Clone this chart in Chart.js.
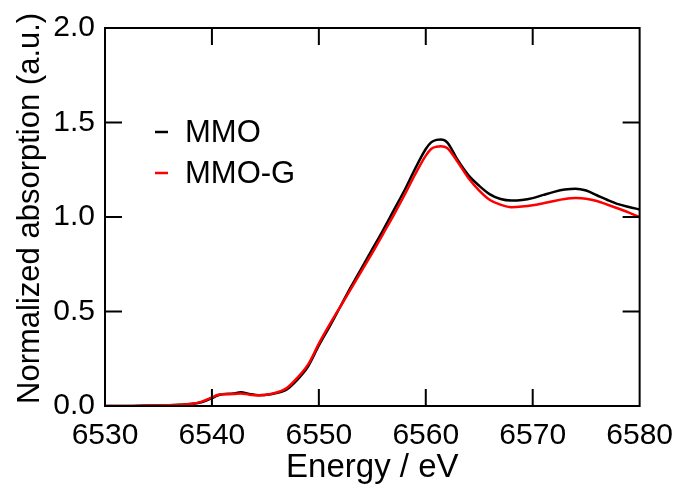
<!DOCTYPE html>
<html>
<head>
<meta charset="utf-8">
<script src="https://cdn.jsdelivr.net/npm/chart.js@4/dist/chart.umd.min.js"></script>
<style>
html,body{margin:0;padding:0;background:#fff;}
canvas{display:block;}
</style>
</head>
<body>
<canvas id="c" width="685" height="490"></canvas>
<script>
const energy = [6530, 6532, 6534, 6536, 6537, 6538, 6539, 6540, 6540.5, 6541, 6542, 6542.7, 6543.5, 6544.4, 6545.5, 6546.5, 6547, 6548, 6549, 6550, 6551, 6552, 6553, 6554, 6555, 6556, 6557, 6558, 6559, 6560, 6560.5, 6561, 6561.4, 6562, 6563, 6564, 6565, 6566, 6567, 6568, 6569, 6570, 6571, 6572, 6573, 6574, 6575, 6576, 6577, 6578, 6579, 6580];
const mmo = [0, 0, 0.002, 0.004, 0.006, 0.01, 0.02, 0.042, 0.055, 0.062, 0.066, 0.073, 0.064, 0.057, 0.062, 0.075, 0.088, 0.14, 0.21, 0.32, 0.42, 0.525, 0.63, 0.73, 0.83, 0.93, 1.035, 1.14, 1.255, 1.36, 1.395, 1.408, 1.41, 1.395, 1.30, 1.22, 1.165, 1.12, 1.095, 1.087, 1.09, 1.10, 1.117, 1.133, 1.145, 1.15, 1.14, 1.115, 1.09, 1.068, 1.053, 1.04];
const mmoG = [0, 0, 0.002, 0.004, 0.006, 0.01, 0.022, 0.045, 0.058, 0.062, 0.063, 0.066, 0.06, 0.057, 0.064, 0.08, 0.095, 0.15, 0.22, 0.33, 0.43, 0.525, 0.62, 0.715, 0.81, 0.91, 1.01, 1.115, 1.225, 1.325, 1.36, 1.372, 1.375, 1.365, 1.29, 1.205, 1.14, 1.09, 1.065, 1.052, 1.055, 1.062, 1.073, 1.085, 1.095, 1.10, 1.097, 1.085, 1.065, 1.045, 1.023, 1.0];
const seriesNames = ['MMO', 'MMO-G'];
const xTitle = 'Energy / eV';
const yTitle = '  Normalized absorption (a.u.)';

const FONT = "'Liberation Sans', Arial, Helvetica, sans-serif";

const framePlugin = {
  id: 'frame',
  afterDatasetsDraw(chart) {
    const {ctx, chartArea: {left, right, top, bottom}, scales: {x, y}} = chart;
    ctx.save();
    ctx.strokeStyle = '#000';
    ctx.lineWidth = 2;
    ctx.strokeRect(left, top, right - left, bottom - top);
    const L = 17;
    ctx.beginPath();
    x.ticks.forEach(t => {
      const px = x.getPixelForValue(t.value);
      if (px <= left + 1 || px >= right - 1) return;
      ctx.moveTo(px, bottom); ctx.lineTo(px, bottom - L);
      ctx.moveTo(px, top); ctx.lineTo(px, top + L);
    });
    y.ticks.forEach(t => {
      const py = y.getPixelForValue(t.value);
      if (py <= top + 1 || py >= bottom - 1) return;
      ctx.moveTo(left, py); ctx.lineTo(left + L, py);
      ctx.moveTo(right, py); ctx.lineTo(right - L, py);
    });
    ctx.stroke();
    // legend
    ctx.font = '31px ' + FONT;
    ctx.textBaseline = 'middle';
    ctx.textAlign = 'left';
    [0, 1].forEach((i, k) => {
      const ds = chart.data.datasets[i];
      const yy = 132 + k * 41;
      ctx.strokeStyle = ds.borderColor;
      ctx.lineWidth = 2.5;
      ctx.beginPath();
      ctx.moveTo(155, yy); ctx.lineTo(168, yy);
      ctx.stroke();
      ctx.fillStyle = '#000';
      ctx.fillText(ds.label, 185, yy + 1);
    });
    ctx.restore();
  }
};

new Chart(document.getElementById('c'), {
  type: 'line',
  data: {
    datasets: [
      {label: seriesNames[0], data: energy.map((e, i) => ({x: e, y: mmo[i]})), borderColor: '#000000', borderWidth: 2.5, pointRadius: 0, tension: 0.4, cubicInterpolationMode: 'monotone', fill: false, order: 1},
      {label: seriesNames[1], data: energy.map((e, i) => ({x: e, y: mmoG[i]})), borderColor: '#ff0000', borderWidth: 2.5, pointRadius: 0, tension: 0.4, cubicInterpolationMode: 'monotone', fill: false, order: 0}
    ]
  },
  options: {
    responsive: false,
    animation: false,
    devicePixelRatio: 1,
    layout: {padding: {left: 0, top: 25, right: 41, bottom: 0}},
    plugins: {legend: {display: false}, tooltip: {enabled: false}},
    scales: {
      x: {
        type: 'linear', min: 6530, max: 6580,
        border: {display: false},
        grid: {display: false, drawTicks: false},
        ticks: {stepSize: 10, color: '#000', font: {family: FONT, size: 30}, padding: 12, maxRotation: 0, callback: v => String(v)},
        title: {display: true, text: xTitle, color: '#000', font: {family: FONT, size: 33}, padding: {top: 0, bottom: 2}},
        afterFit(s) { s.height = 84; }
      },
      y: {
        min: 0, max: 2,
        border: {display: false},
        grid: {display: false, drawTicks: false},
        ticks: {stepSize: 0.5, color: '#000', font: {family: FONT, size: 30}, padding: 10, callback: v => v.toFixed(1)},
        title: {display: true, text: yTitle, color: '#000', font: {family: FONT, size: 31}, padding: {top: 12, bottom: 0}},
        afterFit(s) { s.width = 105; }
      }
    }
  },
  plugins: [framePlugin]
});
</script>
</body>
</html>
